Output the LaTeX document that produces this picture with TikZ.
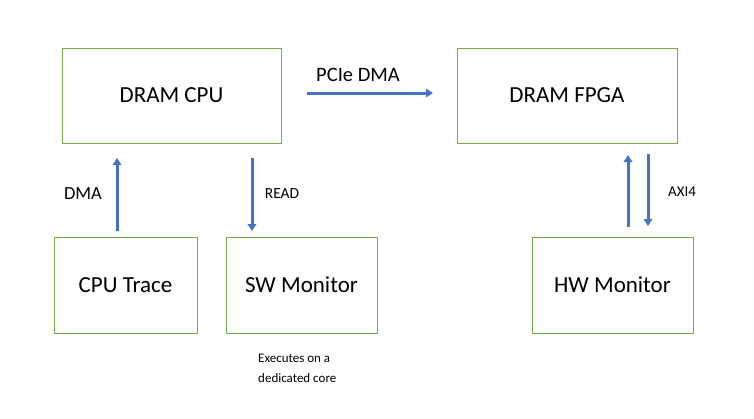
\documentclass[tikz,border=0pt]{standalone}
\usepackage{fontspec}
\setmainfont{Carlito}
\usetikzlibrary{arrows.meta}
\definecolor{boxgreen}{RGB}{112,173,71}
\definecolor{arrblue}{RGB}{68,114,196}
\tikzset{
  box/.style={draw=boxgreen, line width=0.9pt, inner sep=0pt, font=\fontsize{23}{26}\selectfont},
  flow/.style={draw=arrblue, line width=3pt, -{Triangle[length=7pt,width=8.5pt]}},
  lbl/.style={inner sep=0pt, anchor=center}
}
\begin{document}
\begin{tikzpicture}[x=1pt,y=-1pt]
\useasboundingbox (0,0) rectangle (754,418);
% boxes
\node[box, minimum width=219pt, minimum height=95pt] (cpu) at (171.5,95.5) {DRAM CPU};
\node[box, minimum width=220pt, minimum height=95pt] (fpga) at (567,95.5) {DRAM FPGA};
\node[box, minimum width=143pt, minimum height=96pt] (trace) at (125.5,285) {CPU Trace};
\node[box, minimum width=151pt, minimum height=96pt] (sw) at (301.5,285) {SW Monitor};
\node[box, minimum width=161pt, minimum height=96pt] (hw) at (612.5,285) {HW Monitor};
% arrow endpoints
\coordinate (p1) at (307,93);
\coordinate (p2) at (433,93);
\coordinate (d1) at (117,231);
\coordinate (d2) at (117,158);
\coordinate (r1) at (252,158);
\coordinate (r2) at (252,231);
\coordinate (u1) at (628,227);
\coordinate (u2) at (628,155);
\coordinate (w1) at (648,154);
\coordinate (w2) at (648,226);
\draw[flow] (p1) -- (p2);
\draw[flow] (d1) -- (d2);
\draw[flow] (r1) -- (r2);
\draw[flow] (u1) -- (u2);
\draw[flow] (w1) -- (w2);
% labels
\node[lbl, font=\fontsize{20.5}{24}\selectfont] (lpcie) at (358,75) {PCIe DMA};
\node[lbl, font=\fontsize{18.5}{22}\selectfont] (ldma) at (83,194) {DMA};
\node[lbl, font=\fontsize{15.5}{18}\selectfont] (lread) at (282,194) {READ};
\node[lbl, font=\fontsize{15}{18}\selectfont] (laxi) at (682,192) {AXI4};
\node[inner sep=0pt, anchor=north west, align=left, font=\fontsize{13}{20}\selectfont] (lexec) at (258,354) {Executes on a\\dedicated core};
\end{tikzpicture}
\end{document}
